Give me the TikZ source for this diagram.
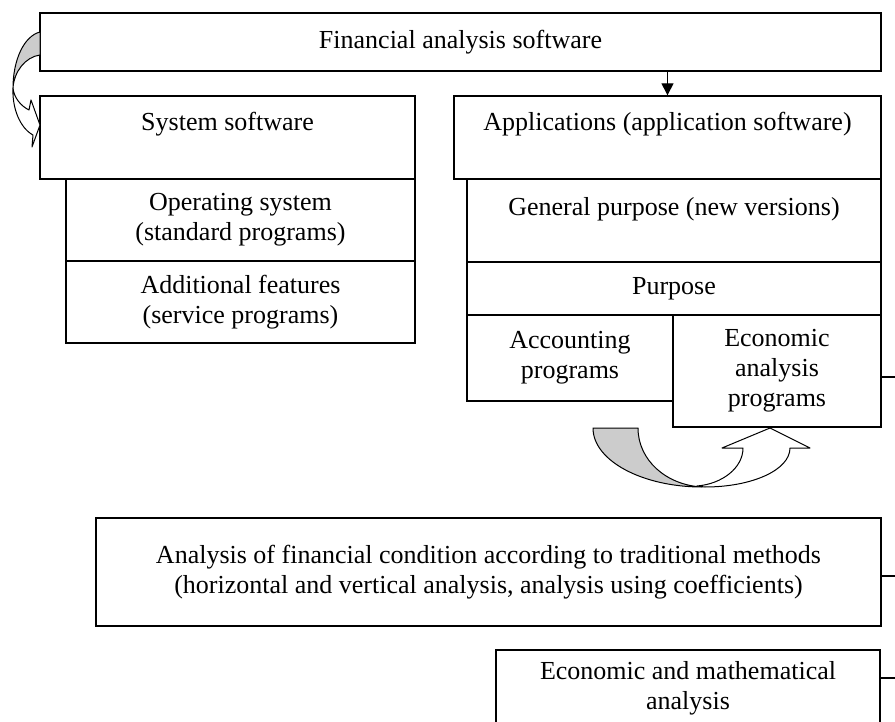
\documentclass[tikz,border=0pt]{standalone}
\usepackage{fontspec}
\setmainfont{Liberation Serif}
\usetikzlibrary{arrows.meta}
\tikzstyle{box} = [draw, line width=1.4pt, align=center, inner sep=0pt]
\tikzstyle{band} = [draw, line width=1pt, line join=round]
\tikzstyle{toptext} = [anchor=north, yshift=-13pt]

\begin{document}
\begin{tikzpicture}[x=1pt, y=-1pt, every node/.style={font=\fontsize{26}{30}\selectfont}]
        \clip (0,0) rectangle (895,722);

        \node[box, minimum width=841pt, minimum height=58pt] (soft) at (460.5,42) {Financial analysis software};
        \node[box, minimum width=375pt, minimum height=83pt, label={[toptext]north:System software}] (sys) at (227.5,137.5) {};
        \node[box, minimum width=427pt, minimum height=83pt, label={[toptext]north:Applications (application software)}] (app) at (667.5,137.5) {};

        \node[box, minimum width=349pt, minimum height=82pt] (os) at (240.5,220) {Operating system\\(standard programs)};
        \node[box, minimum width=349pt, minimum height=82pt] (add) at (240.5,302) {Additional features\\(service programs)};

        \node[box, minimum width=414pt, minimum height=83pt, label={[toptext, yshift=-3pt]north:General purpose (new versions)}] (gen) at (674,220.5) {};
        \node[box, minimum width=414pt, minimum height=53pt] (purp) at (674,288.5) {Purpose};
        \node[box, minimum width=206pt, minimum height=86pt] (acc) at (570,358) {Accounting\\programs};
        \node[box, minimum width=208pt, minimum height=112pt] (eco) at (777,371) {Economic\\analysis\\programs};

        \node[box, minimum width=785pt, minimum height=108pt] (trad) at (488.5,572) {Analysis of financial condition according to traditional methods\\(horizontal and vertical analysis, analysis using coefficients)};
        \node[box, minimum width=384pt, minimum height=76pt] (math) at (688,688) {Economic and mathematical\\analysis};

        \draw[line width=1.4pt, -{Triangle[length=12pt, width=12pt]}] (app.north |- soft.south) -- (app.north);

        % stubs on the right edge
        \coordinate (e1) at (895,377);
        \coordinate (e2) at (895,576);
        \coordinate (e3) at (895,678);
        \draw[line width=1.2pt] (eco.east |- e1) -- (e1);
        \draw[line width=1.2pt] (trad.east |- e2) -- (e2);
        \draw[line width=1.2pt] (math.east |- e3) -- (e3);

        % curved arrow, left
        \filldraw[band, fill=black!20] (40,32) .. controls (24,36) and (13,60) .. (13,88) .. controls (14,72) and (25,57) .. (40,55) -- cycle;
        \filldraw[band, fill=white] (13,88) .. controls (14,98) and (21,106) .. (29,110) -- (31,100) -- (40,125) -- (32,147) -- (33,135) .. controls (20,128) and (12,108) .. (13,88) -- cycle;

        % curved arrow, bottom
        \filldraw[band, fill=black!20] (593,428) -- (638,428) .. controls (638,460) and (666,485) .. (702,487) .. controls (643,487) and (593,461) .. (593,428) -- cycle;
        \filldraw[band, fill=white] (697,486) .. controls (722,484) and (743,468) .. (743,448) -- (722,448) -- (770,428) -- (810,448) -- (790,448) .. controls (790,470) and (752,487) .. (705,487) .. controls (702,487) and (699,486) .. (697,486) -- cycle;

    \end{tikzpicture}
\end{document}
